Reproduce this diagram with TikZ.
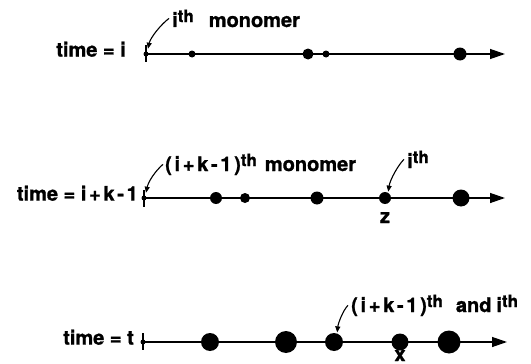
\documentclass[tikz,border=0pt]{standalone}
\usepackage{fontspec}
\setmainfont{TeX Gyre Heros}[BoldFeatures={FakeBold=1.2}]
\usetikzlibrary{arrows.meta}
\newcommand\thup{\raisebox{5pt}{\fontsize{17}{17}\selectfont th}}
\newcommand\gp{\kern2.7pt}
\tikzset{
 lbl/.style={font=\fontsize{20}{22}\selectfont\bfseries, inner sep=0pt},
 dotn/.style={circle, fill=black, inner sep=0pt, minimum size=#1},
 axisline/.style={line width=1.3pt, -{Triangle[length=15pt,width=10pt]}},
 tickline/.style={line width=1.3pt},
 ptr/.style={line width=1.1pt, -{Triangle[length=6pt,width=5pt]}},
}
\begin{document}
\begin{tikzpicture}[x=1pt,y=-1pt]
\useasboundingbox (0,0) rectangle (531,364);
% ---------- row 1 ----------
\coordinate (t1) at (146,54);
\coordinate (e1) at (505,54);
\draw[axisline] (t1) -- (e1);
\draw[tickline] (146,45) -- (146,62);
\node[dotn=5pt]  (a0) at (146,54) {};
\node[dotn=7pt]  (a1) at (192,54) {};
\node[dotn=11pt] (a2) at (308,54) {};
\node[dotn=7pt]  (a3) at (326,54) {};
\node[dotn=13pt] (a4) at (460,54) {};
\node[lbl, anchor=mid east] (L1) at (126,54) {time = i};
\node[lbl, anchor=base west] (M1) at (172,27) {i\thup\hspace{15pt}monomer};
\draw[ptr, shorten >=3pt] ([xshift=-3pt]M1.west) .. controls +(-8,6) and +(3,-14) .. (a0.60);
% ---------- row 2 ----------
\coordinate (t2) at (144,198);
\coordinate (e2) at (505,198);
\draw[axisline] (t2) -- (e2);
\draw[tickline] (144,190) -- (144,207);
\node[dotn=5pt]  (b0) at (144,198) {};
\node[dotn=12pt] (b1) at (216,198) {};
\node[dotn=10pt] (b2) at (245,198) {};
\node[dotn=13pt] (b3) at (317,198) {};
\node[dotn=12pt] (b4) at (385,198) {};
\node[dotn=17pt] (b5) at (461,198) {};
\node[lbl, anchor=mid east] (L2) at (138,198) {time = i\gp+\gp k\gp-\gp 1};
\node[lbl, anchor=base west] (M2) at (165,171) {(\gp i\gp+\gp k\gp-\gp 1\gp)\thup\hspace{8pt}monomer};
\node[lbl, anchor=base west] (M3) at (407,168) {i\thup};
\node[lbl, anchor=base] (Z) at (385,223) {z};
\draw[ptr, shorten >=3pt] ([xshift=-2pt]M2.west) .. controls +(-8,7) and +(3,-14) .. (b0.60);
\draw[ptr, shorten >=1pt] ([xshift=-3pt]M3.west) .. controls +(-6,6) and +(2,-13) .. (b4.60);
% ---------- row 3 ----------
\coordinate (t3) at (143,342);
\coordinate (e3) at (507,342);
\draw[axisline] (t3) -- (e3);
\draw[tickline] (143,333) -- (143,350);
\node[dotn=5pt]  (c0) at (143,342) {};
\node[dotn=18pt] (c1) at (210,342) {};
\node[dotn=22pt] (c2) at (286,342) {};
\node[dotn=18pt] (c3) at (334,342) {};
\node[dotn=17pt] (c4) at (400,342) {};
\node[dotn=23pt] (c5) at (449,342) {};
\node[lbl, anchor=mid east] (L3) at (134,342) {time = t};
\node[lbl, anchor=base west] (M4) at (351,312) {(\gp i\gp+\gp k\gp-\gp 1\gp)\thup\hspace{13pt}and\hspace{5pt}i\thup};
\node[lbl, anchor=base] (X) at (400,361) {x};
\draw[ptr, shorten >=1pt] ([xshift=-3pt]M4.west) .. controls +(-5,5) and +(1,-10) .. (c3.70);
\end{tikzpicture}
\end{document}
